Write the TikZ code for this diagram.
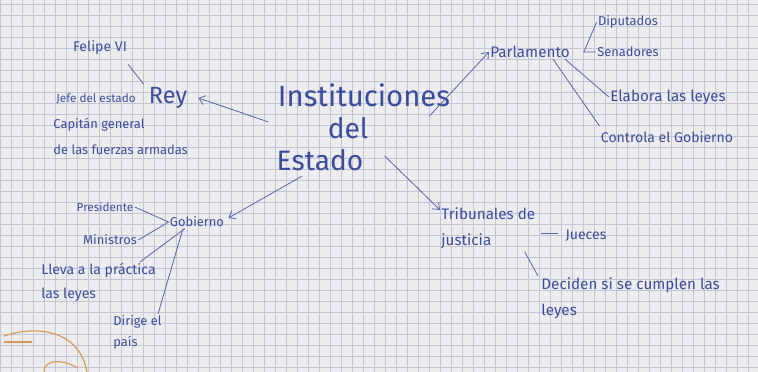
\documentclass[tikz,border=0pt]{standalone}
\usepackage{fontspec}
\setmainfont{Fira Sans}
\usetikzlibrary{arrows.meta}

\definecolor{ink}{HTML}{3B4C9E}
\definecolor{paper}{HTML}{EDEDEF}
\definecolor{rule}{HTML}{C3C5D2}
\definecolor{orange}{HTML}{D89A52}

\tikzset{
  txt/.style={text=ink,inner sep=1pt},
  enlace/.style={draw=ink!85,line width=0.7pt},
  flecha/.style={enlace,-{Straight Barb[length=5pt,width=8pt]}}
}

\begin{document}
\begin{tikzpicture}[x=0.03cm,y=-0.03cm]
\useasboundingbox (0,0) rectangle (758,372);
\fill[paper] (0,0) rectangle (758,372);
\foreach \i in {0,11,...,758} \draw[rule,line width=0.4pt] (\i,0) -- (\i,372);
\foreach \j in {4,15,...,372} \draw[rule,line width=0.3pt] (0,\j) -- (758,\j);

% centro
\node[txt,font=\fontsize{25}{25}\selectfont] (inst) at (364,95) {Instituciones};
\node[txt,font=\fontsize{24}{24}\selectfont] (del) at (348,128) {del};
\node[txt,font=\fontsize{24}{24}\selectfont] (estado) at (320,160) {Estado};

% rey
\node[txt,font=\fontsize{20}{20}\selectfont] (rey) at (168,98) {Rey};
\node[txt,font=\fontsize{12}{12}\selectfont] (felipe) at (100,48) {Felipe VI};
\node[txt,font=\fontsize{10}{10}\selectfont] (jefe) at (96,99) {Jefe del estado};
\node[txt,font=\fontsize{11}{22}\selectfont,align=left,anchor=north west] (capitan) at (52,117)
  {Capitán general\\de las fuerzas armadas};

% parlamento
\node[txt,font=\fontsize{13}{13}\selectfont] (parl) at (530,52) {Parlamento};
\node[txt,font=\fontsize{11}{11}\selectfont] (dip) at (628,22) {Diputados};
\node[txt,font=\fontsize{11}{11}\selectfont] (sen) at (628,52) {Senadores};
\node[txt,font=\fontsize{13}{13}\selectfont] (elab) at (668,97) {Elabora las leyes};
\node[txt,font=\fontsize{12}{12}\selectfont] (contr) at (667,137) {Controla el Gobierno};

% gobierno
\node[txt,font=\fontsize{11}{11}\selectfont] (gob) at (197,222) {Gobierno};
\node[txt,font=\fontsize{10}{10}\selectfont] (pres) at (105,207) {Presidente};
\node[txt,font=\fontsize{11}{11}\selectfont] (min) at (110,240) {Ministros};
\node[txt,font=\fontsize{12}{20}\selectfont,align=left,anchor=north west] (lleva) at (40,262)
  {Lleva a la práctica\\las leyes};
\node[txt,font=\fontsize{11}{18}\selectfont,align=left,anchor=north west] (dirige) at (112,314)
  {Dirige el\\país};

% tribunales
\node[txt,font=\fontsize{13}{22}\selectfont,align=left,anchor=north west] (trib) at (440,206)
  {Tribunales de\\justicia};
\node[txt,font=\fontsize{12}{12}\selectfont] (jueces) at (586,236) {Jueces};
\node[txt,font=\fontsize{13}{22}\selectfont,align=left,anchor=north west] (decid) at (540,276)
  {Deciden si se cumplen las\\leyes};

% flechas desde el centro
\draw[flecha] ([shift={(-8,14)}]inst.south west) -- ([shift={(10,0)}]rey.east);
\draw[flecha] ([shift={(-22,8)}]inst.south east) -- (parl.west);
\draw[flecha] ([shift={(-18,4)}]estado.south) -- ([shift={(3,-4)}]gob.east);
\draw[flecha] ([shift={(20,-4)}]estado.east) -- ([shift={(0,4)}]trib.north west);

% ramas
\draw[enlace] ([shift={(28,8)}]felipe.south) -- ([shift={(-4,-2)}]rey.north west);
\draw[enlace] (dip.west) -- ([shift={(-12,0)}]sen.west) -- (sen.west);
\draw[enlace] ([shift={(-6,0)}]parl.south east) -- (elab.west);
\draw[enlace] ([shift={(-18,0)}]parl.south east) -- ([shift={(0,-4)}]contr.north west);
\draw[enlace] (pres.east) -- (gob.west) -- (min.east);
\draw[enlace] ([shift={(-12,0)}]gob.south) -- ([shift={(100,0)}]lleva.north west);
\draw[enlace] ([shift={(-14,0)}]gob.south) -- ([shift={(46,0)}]dirige.north west);
\draw[enlace] ([shift={(4,27)}]trib.north east) -- ([shift={(-6,-3)}]jueces.west);
\draw[enlace] ([shift={(-12,2)}]trib.south east) -- ([shift={(-2,0)}]decid.north west);

% garabato naranja
\draw[orange,line width=1pt] (4,336) .. controls (40,324) and (80,332) .. (87,372);
\draw[orange,line width=1pt] (4,342) -- (32,342);
\draw[orange,line width=1pt] (44,372) .. controls (44,360) and (60,358) .. (78,368);
\end{tikzpicture}
\end{document}
